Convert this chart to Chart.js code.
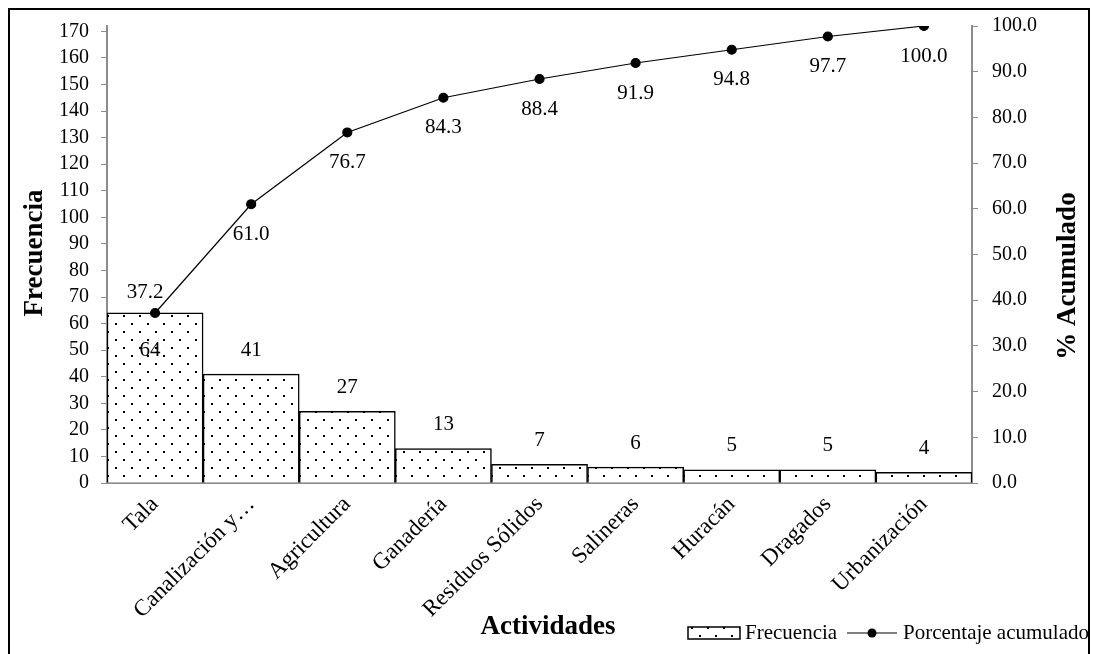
<!DOCTYPE html>
<html>
<head>
<meta charset="utf-8">
<script src="https://cdn.jsdelivr.net/npm/chart.js@4.4.1/dist/chart.umd.min.js"></script>
<style>
  html, body { margin: 0; padding: 0; background: #fff; }
  #wrap { position: relative; width: 1093px; height: 654px; overflow: hidden; }
  #frame { position: absolute; left: 8px; top: 8px; width: 1078px; height: 700px; border: 2px solid #000; pointer-events: none; }
  canvas { position: absolute; left: 0; top: 0; }
</style>
</head>
<body>
<div id="wrap">
  <canvas id="pareto" width="1093" height="654"></canvas>
  <div id="frame"></div>
</div>
<script>
const categories = ["Tala", "Canalización y…", "Agricultura", "Ganadería", "Residuos Sólidos", "Salineras", "Huracán", "Dragados", "Urbanización"];
const frequency = [64, 41, 27, 13, 7, 6, 5, 5, 4];
const cumulativePct = [37.2, 61.0, 76.7, 84.3, 88.4, 91.9, 94.8, 97.7, 100.0];
const freqTicks = [0, 10, 20, 30, 40, 50, 60, 70, 80, 90, 100, 110, 120, 130, 140, 150, 160, 170];
const freqMax = 172;   // total of frequencies
const pctMax = 100;

const SERIF = '"Liberation Serif", "Times New Roman", serif';
const AXIS_GRAY = "#8c8c8c";

function dotPattern() {
  const c = document.createElement("canvas");
  c.width = 16; c.height = 16;
  const g = c.getContext("2d");
  g.fillStyle = "#fff";
  g.fillRect(0, 0, 16, 16);
  g.fillStyle = "#000";
  g.fillRect(3, 3, 2, 2);
  g.fillRect(11, 11, 2, 2);
  return g.createPattern(c, "repeat");
}
const pattern = dotPattern();

const extras = {
  id: "extras",
  afterDatasetsDraw(chart) {
    const ctx = chart.ctx;
    const bars = chart.getDatasetMeta(0).data;
    const pts = chart.getDatasetMeta(1).data;
    ctx.save();
    ctx.fillStyle = "#000";
    ctx.textAlign = "center";
    ctx.textBaseline = "middle";
    ctx.font = "21px " + SERIF;
    bars.forEach((el, i) => {
      const y = i === 0 ? el.y + 38 : el.y - 24;
      ctx.fillText(String(frequency[i]), el.x - (i === 0 ? 5 : 0), y);
    });
    pts.forEach((el, i) => {
      const t = cumulativePct[i].toFixed(1);
      if (i === 0) ctx.fillText(t, el.x - 10, el.y - 21);
      else ctx.fillText(t, el.x, el.y + 30);
    });

    // axis titles
    ctx.font = "bold 27px " + SERIF;
    ctx.save();
    ctx.translate(35, 253);
    ctx.rotate(-Math.PI / 2);
    ctx.fillText("Frecuencia", 0, 0);
    ctx.restore();
    ctx.save();
    ctx.translate(1068, 276);
    ctx.rotate(-Math.PI / 2);
    ctx.fillText("% Acumulado", 0, 0);
    ctx.restore();
    ctx.fillText("Actividades", 548, 627);

    // legend
    const ly = 633;
    ctx.fillStyle = pattern;
    ctx.fillRect(688, ly - 6, 52, 12);
    ctx.strokeStyle = "#000";
    ctx.lineWidth = 1.5;
    ctx.strokeRect(688, ly - 6, 52, 12);
    ctx.fillStyle = "#000";
    ctx.font = "21px " + SERIF;
    ctx.textAlign = "left";
    ctx.fillText("Frecuencia", 745, ly);
    ctx.lineWidth = 1.2;
    ctx.beginPath();
    ctx.moveTo(847, ly);
    ctx.lineTo(897, ly);
    ctx.stroke();
    ctx.beginPath();
    ctx.arc(872, ly, 4.5, 0, Math.PI * 2);
    ctx.fill();
    ctx.fillText("Porcentaje acumulado", 903, ly);
    ctx.restore();
  }
};

new Chart(document.getElementById("pareto"), {
  data: {
    labels: categories,
    datasets: [
      {
        type: "bar",
        label: "Frecuencia",
        data: frequency,
        backgroundColor: pattern,
        borderColor: "#000",
        borderWidth: 1.5,
        barPercentage: 1,
        categoryPercentage: 1,
        yAxisID: "y",
        order: 2,
      },
      {
        type: "line",
        label: "Porcentaje acumulado",
        data: cumulativePct,
        borderColor: "#000",
        borderWidth: 1.2,
        pointRadius: 4.5,
        pointBackgroundColor: "#000",
        pointBorderColor: "#000",
        yAxisID: "y1",
        order: 1,
      },
    ],
  },
  options: {
    responsive: false,
    animation: false,
    layout: { padding: { left: 20, right: 10, top: 22, bottom: 10 } },
    plugins: { legend: { display: false }, tooltip: { enabled: false } },
    scales: {
      x: {
        grid: { drawOnChartArea: false, drawTicks: false },
        border: { color: AXIS_GRAY, width: 2 },
        ticks: { color: "#000", font: { family: SERIF, size: 23 }, minRotation: 45, maxRotation: 45, padding: 8, autoSkip: false },
        afterFit: (s) => { s.height = 654 - 10 - 483; },
      },
      y: {
        position: "left",
        min: 0,
        max: freqMax,
        ticks: { color: "#000", font: { family: SERIF, size: 20 }, padding: 12, autoSkip: false },
        afterBuildTicks: (s) => { s.ticks = freqTicks.map((v) => ({ value: v })); },
        grid: { drawOnChartArea: false, tickLength: 6, color: AXIS_GRAY },
        border: { color: AXIS_GRAY, width: 2 },
        afterFit: (s) => { s.width = 107 - 20; },
      },
      y1: {
        position: "right",
        min: 0,
        max: pctMax,
        ticks: { stepSize: 10, color: "#000", font: { family: SERIF, size: 20 }, padding: 14, autoSkip: false, callback: (v) => Number(v).toFixed(1) },
        grid: { drawOnChartArea: false, tickLength: 6, color: AXIS_GRAY },
        border: { color: AXIS_GRAY, width: 2 },
        afterFit: (s) => { s.width = 1093 - 972 - 10; },
      },
    },
  },
  plugins: [extras],
});
</script>
</body>
</html>
